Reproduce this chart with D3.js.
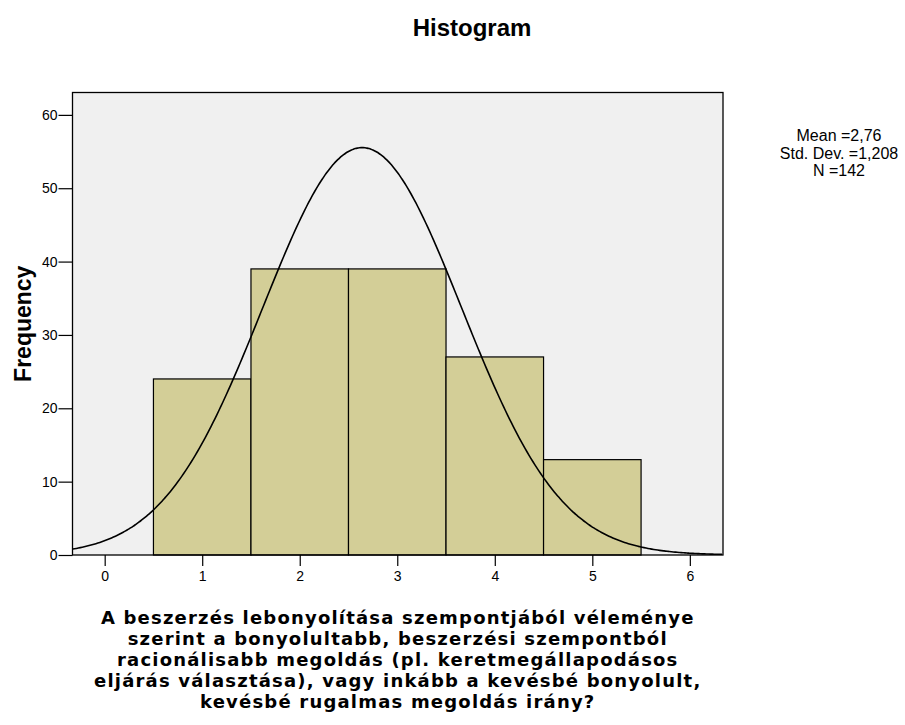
<!DOCTYPE html>
<html>
<head>
<meta charset="utf-8">
<script src="https://cdn.jsdelivr.net/npm/d3@7"></script>
<style>
  body { margin: 0; background: #fff }
  svg { display: block }
  .tick text { font-family: Arial, 'Liberation Sans', sans-serif; font-size: 14px; fill: #000 }
</style>
</head>
<body>
<div id="chart"></div>
<script>
var binStarts = [0.5, 1.5, 2.5, 3.5, 4.5]
var binEnds = [1.5, 2.5, 3.5, 4.5, 5.5]
var counts = [24, 39, 39, 27, 13]
var xTicks = [0, 1, 2, 3, 4, 5, 6]
var yTicks = [0, 10, 20, 30, 40, 50, 60]
var statLines = ['Mean =2,76', 'Std. Dev. =1,208', 'N =142']
var xLabelLines = [
  'A beszerzés lebonyolítása szempontjából véleménye',
  'szerint a bonyolultabb, beszerzési szempontból',
  'racionálisabb megoldás (pl. keretmegállapodásos',
  'eljárás választása), vagy inkább a kevésbé bonyolult,',
  'kevésbé rugalmas megoldás irány?'
]
// normal curve as drawn over the bars
var curveN = 142
var curveMean = 2.64
var curveSd = 1.02
var binWidth = 1

var width = 905
var height = 725
var plot = { left: 72.5, top: 92.5, right: 723, bottom: 555 }

var svg = d3.select('#chart').append('svg')
  .attr('width', width)
  .attr('height', height)

var x = d3.scaleLinear()
  .domain([-0.33, 6.34])
  .range([plot.left, plot.right])

var y = d3.scaleLinear()
  .domain([0, 63.05])
  .range([plot.bottom, plot.top])

// plot background
svg.append('rect')
  .attr('x', plot.left)
  .attr('y', plot.top)
  .attr('width', plot.right - plot.left)
  .attr('height', plot.bottom - plot.top)
  .attr('fill', '#f0f0f0')

var bins = counts.map(function(c, i) {
  return { x0: binStarts[i], x1: binEnds[i], count: c }
})

svg.append('g').selectAll('rect')
  .data(bins)
  .enter()
  .append('rect')
  .attr('x', function(d) { return x(d.x0) })
  .attr('y', function(d) { return y(d.count) })
  .attr('width', function(d) { return x(d.x1) - x(d.x0) })
  .attr('height', function(d) { return y(0) - y(d.count) })
  .attr('fill', '#d3ce97')
  .attr('stroke', '#000')
  .attr('stroke-width', 1.2)

// normal curve
var curveXs = d3.range(x.domain()[0], x.domain()[1] + 0.001, 0.02)
var line = d3.line()
  .x(function(d) { return x(d) })
  .y(function(d) { return y(density(d)) })
  .curve(d3.curveBasis)

function density(v) {
  var z = (v - curveMean) / curveSd
  return curveN * binWidth * Math.exp(-0.5 * z * z) / (curveSd * Math.sqrt(2 * Math.PI))
}

svg.append('clipPath').attr('id', 'clip')
  .append('rect')
  .attr('x', plot.left)
  .attr('y', plot.top)
  .attr('width', plot.right - plot.left)
  .attr('height', plot.bottom - plot.top)

svg.append('path')
  .datum(curveXs)
  .attr('clip-path', 'url(#clip)')
  .attr('d', line)
  .attr('fill', 'none')
  .attr('stroke', '#000')
  .attr('stroke-width', 1.6)

// frame
svg.append('rect')
  .attr('x', plot.left)
  .attr('y', plot.top)
  .attr('width', plot.right - plot.left)
  .attr('height', plot.bottom - plot.top)
  .attr('fill', 'none')
  .attr('stroke', '#000')
  .attr('stroke-width', 1.3)

// axes
var xAxis = svg.append('g')
  .attr('transform', 'translate(0,' + plot.bottom + ')')
  .call(d3.axisBottom(x).tickValues(xTicks).tickSize(11).tickPadding(5).tickFormat(d3.format('d')))
xAxis.select('.domain').remove()

var yAxis = svg.append('g')
  .attr('transform', 'translate(' + plot.left + ',0)')
  .call(d3.axisLeft(y).tickValues(yTicks).tickSize(14).tickPadding(1).tickFormat(d3.format('d')))
yAxis.select('.domain').remove()
svg.selectAll('.tick line').attr('stroke', '#000').attr('stroke-width', 1.2)

// title
svg.append('text')
  .attr('x', 472)
  .attr('y', 36)
  .attr('text-anchor', 'middle')
  .style('font-family', "Arial, 'Liberation Sans', sans-serif")
  .style('font-weight', 'bold')
  .style('font-size', '24px')
  .text('Histogram')

// y label
svg.append('text')
  .attr('transform', 'translate(31,' + ((plot.top + plot.bottom) / 2) + ') rotate(-90)')
  .attr('text-anchor', 'middle')
  .style('font-family', "Arial, 'Liberation Sans', sans-serif")
  .style('font-weight', 'bold')
  .style('font-size', '23px')
  .text('Frequency')

// stats box
svg.append('g').selectAll('text')
  .data(statLines)
  .enter()
  .append('text')
  .attr('x', 839)
  .attr('y', function(d, i) { return 141 + i * 17.5 })
  .attr('text-anchor', 'middle')
  .style('font-family', "Arial, 'Liberation Sans', sans-serif")
  .style('font-size', '16px')
  .text(function(d) { return d })

// x label, tight lines like the source
svg.append('g').selectAll('text')
  .data(xLabelLines)
  .enter()
  .append('text')
  .attr('x', (plot.left + plot.right) / 2)
  .attr('y', function(d, i) { return 624 + i * 21 })
  .attr('text-anchor', 'middle')
  .style('font-family', "'DejaVu Sans', Verdana, sans-serif")
  .style('font-weight', 'bold')
  .style('font-size', '18px')
  .style('letter-spacing', '1.2px')
  .text(function(d) { return d })
</script>
</body>
</html>
